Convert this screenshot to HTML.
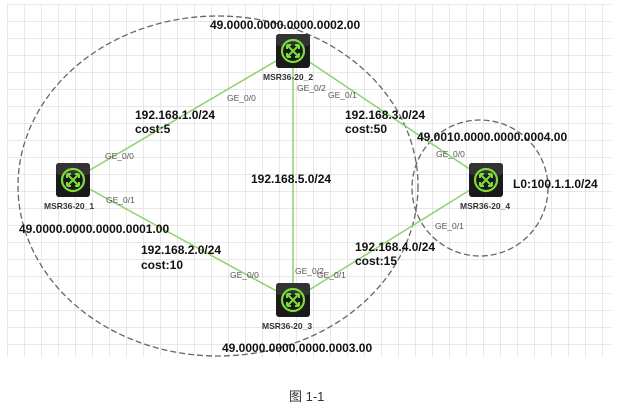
<!DOCTYPE html>
<html><head><meta charset="utf-8"><style>
body{margin:0;background:#fff;width:623px;height:406px;overflow:hidden}
svg text{font-family:"Liberation Sans",Arial,sans-serif}
.b{font-weight:bold;font-size:12px;fill:#111}
.s{font-size:8.5px;fill:#555}
.n{font-weight:bold;font-size:8.5px;fill:#333}
</style></head><body>
<svg width="623" height="406" xmlns="http://www.w3.org/2000/svg">
<defs>
<pattern id="g" width="17" height="17" patternUnits="userSpaceOnUse" x="7" y="4">
<path d="M0 0H17M0 0V17" stroke="#e0e0e0" stroke-width="1.5" fill="none"/>
</pattern>
<g id="r">
<rect x="-17" y="-17" width="34" height="34" rx="3" fill="#1a1a1a"/>
<rect x="-17" y="-17" width="34" height="12" rx="3" fill="#333"/>
<circle r="11" fill="none" stroke="#7ddc3a" stroke-width="2.2"/>
<path d="M-6-6L6 6M6-6L-6 6M-6-6h4M-6-6v4M6 6h-4M6 6v-4M6-6h-4M6-6v4M-6 6h4M-6 6v-4" stroke="#7ddc3a" stroke-width="2" fill="none"/>
</g>
</defs>
<rect x="7" y="4" width="604" height="353" fill="url(#g)"/>
<ellipse cx="218" cy="186" rx="200" ry="170" fill="none" stroke="#666" stroke-width="1.3" stroke-dasharray="6,3"/>
<circle cx="480" cy="188" r="68" fill="none" stroke="#666" stroke-width="1.3" stroke-dasharray="6,3"/>
<g stroke="#8fd16a" stroke-width="1.5">
<line x1="293" y1="51" x2="73" y2="180"/>
<line x1="293" y1="51" x2="293" y2="300"/>
<line x1="293" y1="51" x2="486" y2="180"/>
<line x1="73" y1="180" x2="293" y2="300"/>
<line x1="293" y1="300" x2="486" y2="180"/>
</g>
<use href="#r" x="293" y="51"/>
<use href="#r" x="73" y="180"/>
<use href="#r" x="293" y="300"/>
<use href="#r" x="486" y="180"/>
<text class="b" x="210" y="29">49.0000.0000.0000.0002.00</text>
<text class="n" x="263" y="80">MSR36-20_2</text>
<text class="s" x="297" y="91">GE_0/2</text>
<text class="s" x="328" y="98">GE_0/1</text>
<text class="s" x="227" y="101">GE_0/0</text>
<text class="b" x="135" y="119">192.168.1.0/24</text>
<text class="b" x="135" y="133">cost:5</text>
<text class="b" x="345" y="119">192.168.3.0/24</text>
<text class="b" x="345" y="133">cost:50</text>
<text class="b" x="417" y="141">49.0010.0000.0000.0004.00</text>
<text class="s" x="436" y="157">GE_0/0</text>
<text class="s" x="105" y="159">GE_0/0</text>
<text class="b" x="251" y="183">192.168.5.0/24</text>
<text class="b" x="513" y="188">L0:100.1.1.0/24</text>
<text class="n" x="44" y="209">MSR36-20_1</text>
<text class="s" x="106" y="203">GE_0/1</text>
<text class="n" x="460" y="209">MSR36-20_4</text>
<text class="s" x="435" y="229">GE_0/1</text>
<text class="b" x="19" y="233">49.0000.0000.0000.0001.00</text>
<text class="b" x="141" y="254">192.168.2.0/24</text>
<text class="b" x="141" y="269">cost:10</text>
<text class="b" x="355" y="251">192.168.4.0/24</text>
<text class="b" x="355" y="265">cost:15</text>
<text class="s" x="230" y="278">GE_0/0</text>
<text class="s" x="295" y="274">GE_0/2</text>
<text class="s" x="317" y="278">GE_0/1</text>
<text class="n" x="262" y="329">MSR36-20_3</text>
<text class="b" x="222" y="352">49.0000.0000.0000.0003.00</text>
<text x="289" y="401" style="font-family:'Liberation Sans','Noto Sans CJK SC',sans-serif;font-size:13px;fill:#333">图 1-1</text>
</svg>
</body></html>
